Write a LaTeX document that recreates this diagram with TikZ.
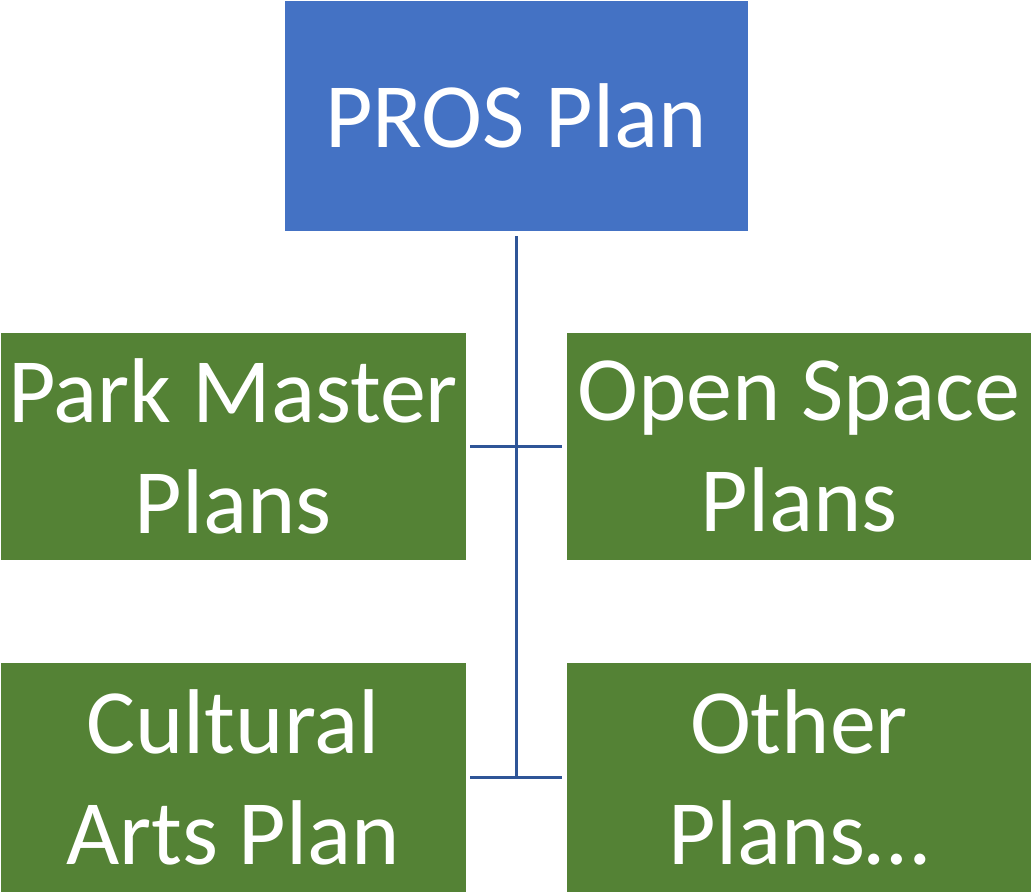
\documentclass[tikz,border=0pt]{standalone}
\usepackage{fontspec}
\setmainfont{Carlito}
\definecolor{boxblue}{HTML}{4472C4}
\definecolor{boxgreen}{HTML}{548235}
\definecolor{linkblue}{HTML}{2F5597}
\begin{document}
\begin{tikzpicture}[x=1pt,y=-1pt,
  box/.style={draw=white, line width=0.8pt, text=white, align=center, inner sep=0pt,
    font=\fontsize{92}{111}\selectfont},
  topbox/.style={box, fill=boxblue, minimum width=464pt, minimum height=231pt},
  subbox/.style={box, fill=boxgreen, minimum width=466pt, minimum height=228pt},
  link/.style={draw=linkblue, line width=3pt}]
\useasboundingbox (0,0) rectangle (1031,894);
\node[topbox] (top) at (516,115.5) {PROS Plan};
\node[subbox] (pm) at (233,446.5) {Park Master\\Plans};
\node[subbox] (os) at (799,446.5) {Open Space\\Plans};
\node[subbox, minimum height=230pt] (ca) at (233,777) {Cultural\\Arts Plan};
\node[subbox, minimum height=230pt] (ot) at (799,777) {Other\\Plans\ldots};
\coordinate (j2) at (516,778);
\draw[link] ([yshift=-5pt]top.south) -- (j2);
\draw[link] ([xshift=4pt]pm.east) -- ([xshift=-4pt]os.west);
\draw[link] ([xshift=4pt]ca.east) -- ([xshift=-4pt]ot.west);
\end{tikzpicture}
\end{document}
